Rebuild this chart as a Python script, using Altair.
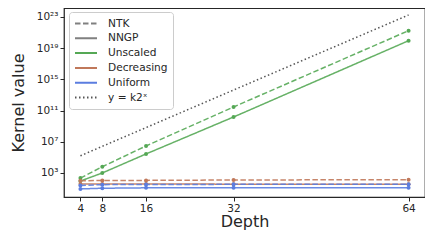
import altair as alt
import pandas as pd
import math

# ---- data ----
depths = [4, 8, 16, 32, 64]
unscaled_ntk = [2.2e2, 6.3e3, 2.9e6, 2.9e11, 1.75e21]
unscaled_nngp = [9.3e1, 1.0e3, 2.75e5, 1.5e10, 9.1e19]
decreasing_ntk = [1.0e2, 1.12e2, 1.12e2, 1.26e2, 1.38e2]
decreasing_nngp = [40.0, 40.0, 38.0, 37.0, 36.0]
uniform_ntk = [25.0, 32.0, 33.0, 35.0, 35.0]
uniform_nngp = [9.0, 11.0, 12.5, 13.0, 13.0]
reference_line = [1.6e5, 2.6e6, 6.6e8, 4.3e13, 1.8e23]

schemes = ["Unscaled", "Decreasing", "Uniform"]
scheme_colors = ["#55a855", "#c0785a", "#5b7de0"]
kernels = ["NTK", "NNGP"]
kernel_dash = [[5.5, 2.5], [1, 0]]

legend_entries = ["NTK", "NNGP", "Unscaled", "Decreasing", "Uniform", "y = k2ˣ"]
legend_colors = ["#808080", "#808080", "#55a855", "#c0785a", "#5b7de0", "#555555"]
legend_dash = [[5.5, 2.5], [1, 0], [1, 0], [1, 0], [1, 0], [1.5, 2.5]]

y_ticks = [1e3, 1e7, 1e11, 1e15, 1e19, 1e23]
y_tick_labels = ["10³", "10⁷", "10¹¹", "10¹⁵", "10¹⁹", "10²³"]

series = [
    ("Unscaled", "NTK", unscaled_ntk),
    ("Unscaled", "NNGP", unscaled_nngp),
    ("Decreasing", "NTK", decreasing_ntk),
    ("Decreasing", "NNGP", decreasing_nngp),
    ("Uniform", "NTK", uniform_ntk),
    ("Uniform", "NNGP", uniform_nngp),
]
rows = []
for order, (sch, ker, vals) in enumerate(series):
    for d, v in zip(depths, vals):
        rows.append({"depth": d, "value": v, "scheme": sch, "kernel": ker,
                     "series": f"{order}-{sch}-{ker}"})
df = pd.DataFrame(rows)
ref_df = pd.DataFrame({"depth": depths, "value": reference_line})
leg_df = pd.DataFrame({"entry": legend_entries})

label_expr = ""
for t, lab in zip(y_ticks, y_tick_labels):
    label_expr += f"abs(log(datum.value)/LN10 - {round(math.log10(t))}) < 0.5 ? '{lab}' : "
label_expr += "''"

x_enc = alt.X("depth:Q", scale=alt.Scale(domain=[1, 67], nice=False, zero=False),
              axis=alt.Axis(values=depths, title="Depth", grid=False, domain=False,
                            tickSize=4, labelPadding=2, titlePadding=0))
y_enc = alt.Y("value:Q",
              scale=alt.Scale(type="log", domain=[10 ** -0.08, 10 ** 24.15], nice=False),
              axis=alt.Axis(values=y_ticks, labelExpr=label_expr, title="Kernel value",
                            grid=False, domain=False, tickSize=4, labelPadding=2,
                            titlePadding=10))

base = alt.Chart(df).encode(
    x=x_enc, y=y_enc,
    color=alt.Color("scheme:N", scale=alt.Scale(domain=schemes, range=scheme_colors), legend=None),
    detail="series:N",
)
lines = base.mark_line(strokeWidth=1.5, opacity=0.9).encode(
    strokeDash=alt.StrokeDash("kernel:N", scale=alt.Scale(domain=kernels, range=kernel_dash), legend=None)
)
points = base.mark_circle(size=16, opacity=1)
ref = alt.Chart(ref_df).mark_line(color="#555555", strokeWidth=1.5, strokeDash=[1.5, 2.5]).encode(
    x="depth:Q", y="value:Q")

legend_layer = alt.Chart(leg_df).mark_line(strokeWidth=2).encode(
    x=alt.value(0), y=alt.value(0),
    color=alt.Color("entry:N", scale=alt.Scale(domain=legend_entries, range=legend_colors),
                    legend=alt.Legend(title=None, orient="none", legendX=5, legendY=4)),
    strokeDash=alt.StrokeDash("entry:N", scale=alt.Scale(domain=legend_entries, range=legend_dash),
                              legend=alt.Legend(title=None, orient="none", legendX=5, legendY=4)),
)

chart = alt.layer(alt.layer(ref, lines, points), legend_layer).resolve_scale(
    color="independent", strokeDash="independent"
).properties(
    width=361, height=189,
    autosize=alt.AutoSizeParams(type="none"),
    padding={"left": 56, "top": 0, "right": 0, "bottom": 35},
).configure_view(
    stroke="#262626", strokeWidth=1.25
).configure_axis(
    labelFont="DejaVu Sans", titleFont="DejaVu Sans", labelFontSize=10.5, titleFontSize=16,
    labelColor="#262626", titleColor="#262626", tickColor="#262626", titleFontWeight="normal",
    tickWidth=1,
).configure_legend(
    labelFont="DejaVu Sans", labelFontSize=10.6, labelColor="#262626",
    symbolType="M-1,0H3", symbolSize=121, symbolStrokeWidth=2, labelOffset=21,
    fillColor="white", strokeColor="#cccccc", cornerRadius=3, padding=5,
    rowPadding=1.8,
)

chart.save("out.html", embed_options={"renderer": "svg", "actions": False})
